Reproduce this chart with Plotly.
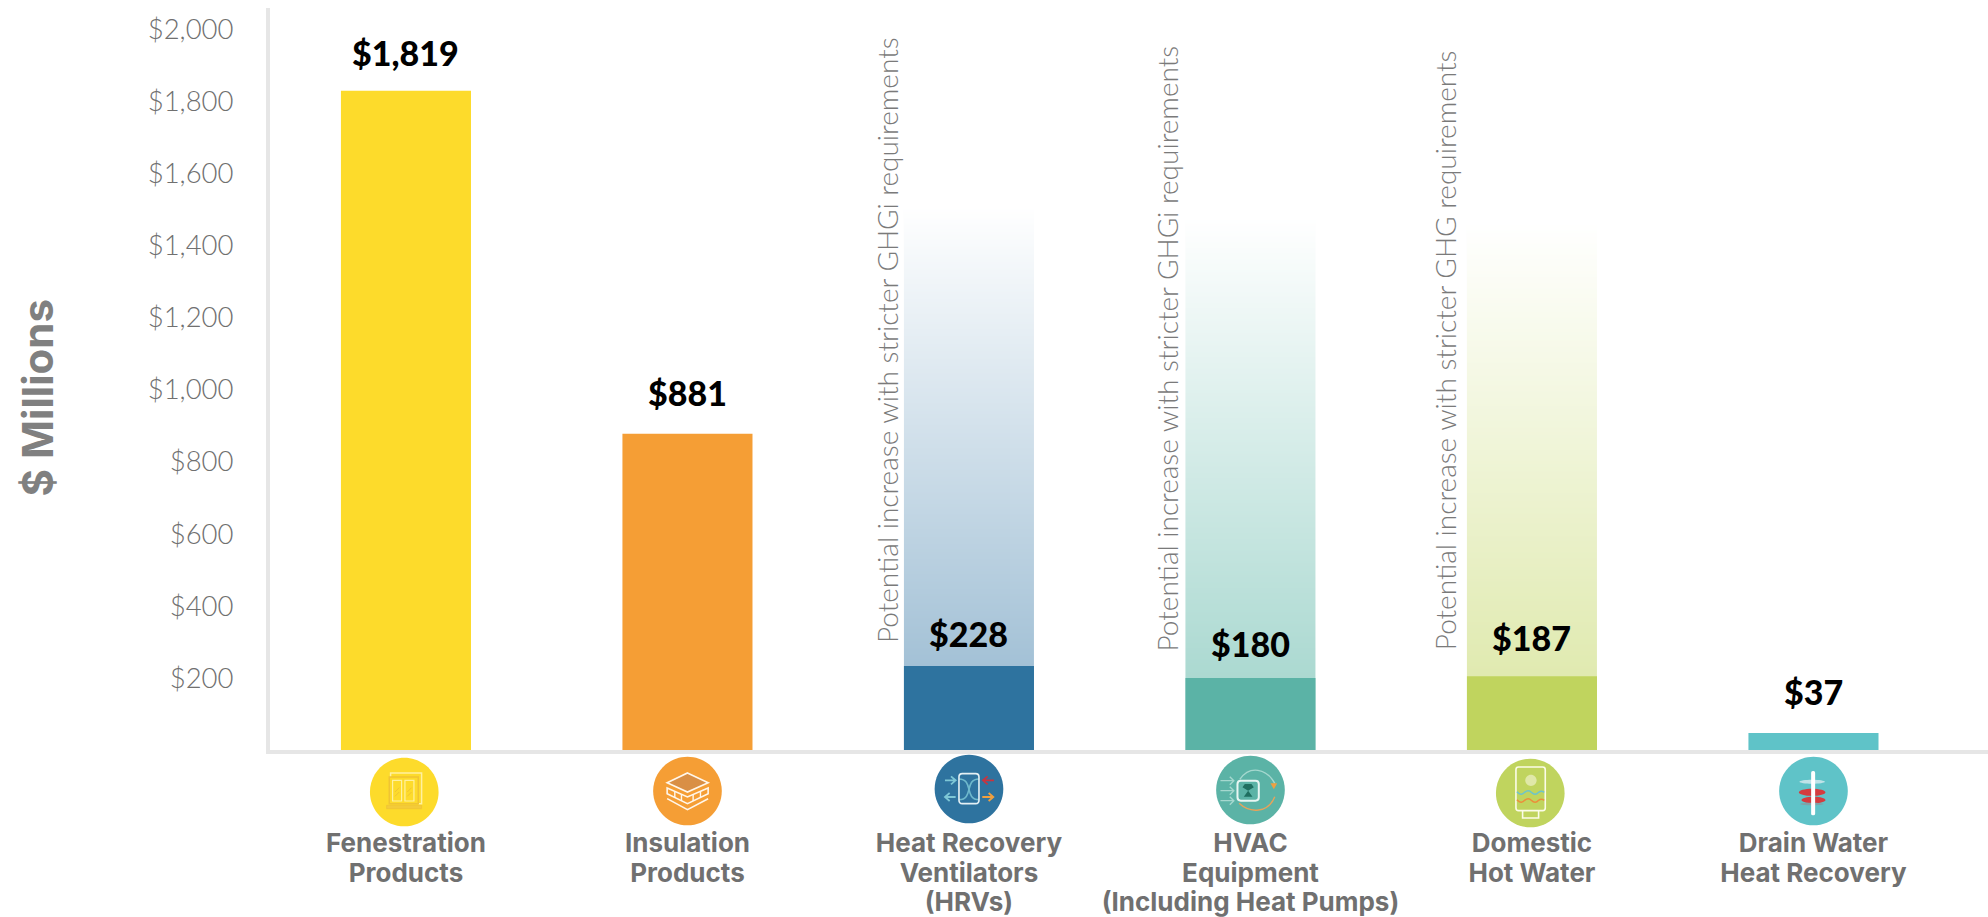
import re
import plotly.graph_objects as go

# ---------- data ----------
categories = ["Fenestration<br>Products", "Insulation<br>Products",
              "Heat Recovery<br>Ventilators<br>(HRVs)",
              "HVAC<br>Equipment<br>(Including Heat Pumps)",
              "Domestic<br>Hot Water", "Drain Water<br>Heat Recovery"]
bar_heights = [1830, 878, 233, 200, 205, 47]
value_labels = ["$1,819", "$881", "$228", "$180", "$187", "$37"]
potential_tops = [None, None, 1510, 1480, 1465, None]
note_texts = [None, None,
              "Potential increase with stricter GHGi requirements",
              "Potential increase with stricter GHGi requirements",
              "Potential increase with stricter GHG requirements", None]
note_centres = [None, None, 1138, 1116, 1110, None]
y_ticks = [200, 400, 600, 800, 1000, 1200, 1400, 1600, 1800, 2000]
y_tick_labels = ["$200", "$400", "$600", "$800", "$1,000", "$1,200", "$1,400", "$1,600", "$1,800", "$2,000"]

# ---------- style ----------
colors = ["#fddb2b", "#f59e35", "#2e739f", "#5bb3a6", "#c0d45e", "#5fc3c8"]
fade_colors = [None, None, "#a3c1d6", "#abd9d1", "#e0eab0", None]
FONT = "Lato"
BAR_W = 0.462
label_shift = [38, 41, 33, 34, 39, 42]
note_shift = [0, 0, -82, -83, -87, 0]
icon_shift_y = [-42, -41, -39, -40, -43, -41]
icon_shift_x = [-1.7, 0, 0, 0, -1.7, 0]
icon_crop_c = [(163, 125), (143, 122), (150, 118), (152, 120), (145, 130), (150, 122)]
PLOT_H = 742

fig = go.Figure()

for i, top in enumerate(potential_tops):
    if top is None:
        continue
    fig.add_trace(go.Heatmap(
        x=[i - BAR_W / 4, i + BAR_W / 4], y=[bar_heights[i], top],
        z=[[1, 1], [0, 0]], zsmooth="best", showscale=False, hoverinfo="skip",
        zmin=0, zmax=1, colorscale=[[0, "#ffffff"], [1, fade_colors[i]]]))

fig.add_trace(go.Bar(x=list(range(6)), y=bar_heights, width=BAR_W,
                     marker=dict(color=colors, line=dict(width=0)), hoverinfo="skip"))

shapes = []


def icon_path(i, d, fill=None, stroke=None, width=0):
    """d is an SVG path (M/L/Q/C/Z) in reference-crop units, 3 units per pixel, y down."""
    cx, cy = icon_crop_c[i]
    nums = iter(range(10000))

    def conv(m):
        v = float(m.group(0))
        if next(nums) % 2 == 0:
            return f"{(v - cx) / 3 + icon_shift_x[i]:.2f}"
        return f"{-(v - cy) / 3:.2f}"
    path = re.sub(r"-?\d+\.?\d*", conv, d)
    s = dict(type="path", path=path, xref="x", yref="paper",
             xsizemode="pixel", ysizemode="pixel", xanchor=i,
             yanchor=icon_shift_y[i] / PLOT_H, layer="above",
             line=dict(width=width, color=stroke or "rgba(0,0,0,0)"))
    if fill:
        s["fillcolor"] = fill
    shapes.append(s)


def rect(x0, y0, x1, y1):
    return f"M{x0} {y0} L{x1} {y0} L{x1} {y1} L{x0} {y1} Z"


def rrect(x0, y0, x1, y1, r):
    return (f"M{x0+r} {y0} L{x1-r} {y0} Q{x1} {y0} {x1} {y0+r} L{x1} {y1-r} Q{x1} {y1} {x1-r} {y1} "
            f"L{x0+r} {y1} Q{x0} {y1} {x0} {y1-r} L{x0} {y0+r} Q{x0} {y0} {x0+r} {y0} Z")


def ellipse(cx, cy, rx, ry):
    k = 0.5523
    return (f"M{cx-rx} {cy} C{cx-rx} {cy-k*ry} {cx-k*rx} {cy-ry} {cx} {cy-ry} "
            f"C{cx+k*rx} {cy-ry} {cx+rx} {cy-k*ry} {cx+rx} {cy} "
            f"C{cx+rx} {cy+k*ry} {cx+k*rx} {cy+ry} {cx} {cy+ry} "
            f"C{cx-k*rx} {cy+ry} {cx-rx} {cy+k*ry} {cx-rx} {cy} Z")


for i, (cx, cy) in enumerate(icon_crop_c):
    icon_path(i, ellipse(cx, cy, 103, 103), fill=colors[i])

# fenestration
icon_path(0, "M122 80 L122 68 L215 68 L215 160 L205 160", stroke="#fff1a0", width=1.5)
icon_path(0, rect(118, 80, 205, 160), stroke="#f0c433", width=1.5)
icon_path(0, rect(128, 90, 155, 152), stroke="#fff1a0", width=1.2)
icon_path(0, rect(165, 90, 192, 152), stroke="#fff1a0", width=1.2)
icon_path(0, "M135 125 L148 112 M135 138 L148 125 M172 125 L185 112 M172 138 L185 125", stroke="#f0c433", width=1)
icon_path(0, rect(110, 165, 215, 175), fill="#f3cb3a", stroke="#f0c433", width=0.8)

# insulation
W = "#fff6ea"
icon_path(1, "M143 68 L205 97 L143 125 L82 97 Z", fill="#d98f45", stroke=W, width=1.6)
icon_path(1, "M82 113 L143 140 L205 113 L205 130 L143 160 L82 130 Z", stroke=W, width=1.6)
icon_path(1, "M105 122 L105 140 M125 132 L125 152 M160 132 L160 152 M182 122 L182 140", stroke=W, width=1.4)
icon_path(1, "M82 145 L143 178 L205 145", stroke=W, width=1.6)

# heat recovery ventilator
icon_path(2, "M120 88 C165 88 135 150 180 150", stroke="#6fb9cc", width=1.6)
icon_path(2, "M120 150 C165 150 135 88 180 88", stroke="#6fb9cc", width=1.6)
icon_path(2, rrect(120, 72, 180, 162, 10), stroke="#e4f0f4", width=1.6)
icon_path(2, "M78 92 L110 92 M96 80 L110 92 L96 104", stroke="#7ec7d6", width=1.8)
icon_path(2, "M110 142 L78 142 M92 130 L78 142 L92 154", stroke="#7ec7d6", width=1.8)
icon_path(2, "M225 92 L192 92 M206 80 L192 92 L206 104", stroke="#c8343f", width=1.8)
icon_path(2, "M190 142 L223 142 M209 130 L223 142 L209 154", stroke="#f0a040", width=1.8)

# HVAC
icon_path(3, "M120 88 C150 45 200 55 225 100", stroke="#a5d8cf", width=1.4)
icon_path(3, "M225 140 C205 190 150 190 118 160", stroke="#e7a35a", width=1.4)
icon_path(3, "M212 100 L232 100 L222 118 Z", fill="#f0a040")
for y in (92, 122, 152):
    icon_path(3, f"M62 {y} L102 {y} M90 {y-12} L102 {y} L90 {y+12}", stroke="#a5d8cf", width=1.4)
icon_path(3, rrect(113, 92, 177, 152, 10), stroke="#e8f6f3", width=2, fill="#5bb3a6")
icon_path(3, "M145 122 L128 112 L135 102 L155 102 L162 112 Z M145 122 L158 140 L132 140 Z", fill="#1f6f60")

# domestic hot water
icon_path(4, rrect(102, 52, 190, 183, 8), stroke="#fbfce8", width=1.6)
icon_path(4, "M122 183 L122 205 L170 205 L170 183", stroke="#fbfce8", width=1.6)
icon_path(4, ellipse(147, 92, 17, 17), fill="#e0e8a8")
icon_path(4, "M105 126 Q118 140 128 128 Q140 118 148 128 Q160 140 170 128 Q178 122 187 128", stroke="#6cc4cc", width=1.5)
icon_path(4, "M105 150 Q118 164 128 152 Q140 142 148 152 Q160 164 170 152 Q178 146 187 152", stroke="#ec8e3a", width=1.5)

# drain water heat recovery
icon_path(5, ellipse(146, 94, 38, 6), fill="#bfe3e8")
icon_path(5, ellipse(146, 126, 40, 11), fill="#d43c3f")
icon_path(5, ellipse(150, 149, 36, 10), fill="#d43c3f")
icon_path(5, ellipse(145, 161, 35, 4), fill="#7fa3a8")
icon_path(5, rrect(143, 62, 155, 195, 5), fill="#ffffff")

annotations = []
for i, lab in enumerate(value_labels):
    annotations.append(dict(x=i, y=bar_heights[i], xref="x", yref="y", text=lab, showarrow=False,
                            yshift=label_shift[i], font=dict(family=FONT, size=34, color="#000000", weight=900)))
for i, note in enumerate(note_texts):
    if note:
        annotations.append(dict(x=i, y=note_centres[i], xref="x", yref="y", text=note, showarrow=False,
                                textangle=-90, xshift=note_shift[i],
                                font=dict(family=FONT, size=28, color="#7a7a7a", weight=300)))
annotations.append(dict(x=0, y=0.475, xref="paper", yref="paper", text="$ Millions", showarrow=False,
                        textangle=-90, xshift=-232, xanchor="center",
                        font=dict(family="Inter", size=42, color="#808080", weight=700)))

# the glyphs are a little larger than the 30px line pitch would allow at tick-font size
tick_text = ["<br>".join(f'<span style="font-size:26px">{line}</span>' for line in c.split("<br>"))
             for c in categories]

fig.update_layout(
    width=1988, height=917, autosize=False, showlegend=False,
    margin=dict(l=270, r=0, t=8, b=167, pad=0),
    paper_bgcolor="#ffffff", plot_bgcolor="#ffffff",
    shapes=shapes, annotations=annotations,
    xaxis=dict(range=[-0.483, 5.62], tickmode="array", tickvals=list(range(6)),
               ticktext=tick_text, showgrid=False, zeroline=False, automargin=False,
               ticks="", showline=True, linecolor="#e6e6e6", linewidth=4,
               ticklabelstandoff=70, tickangle=0,
               tickfont=dict(family="Inter", size=23, color="#707070", weight=700)),
    yaxis=dict(range=[0, 2060], tickmode="array", tickvals=y_ticks, ticktext=y_tick_labels,
               showgrid=False, zeroline=False, automargin=False, ticks="", showline=True,
               linecolor="#e6e6e6", linewidth=4, ticklabelstandoff=27,
               tickfont=dict(family=FONT, size=27.5, color="#707070", weight=300)),
)

fig.write_html("out.html", post_script="document.body.style.margin='0';",
               config={"displayModeBar": False})
